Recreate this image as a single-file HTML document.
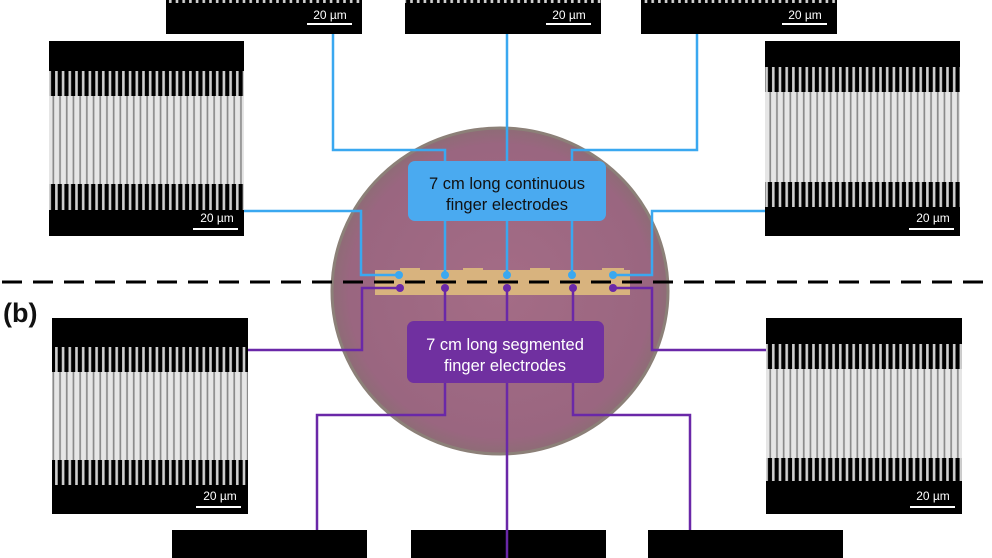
<!DOCTYPE html>
<html><head><meta charset="utf-8"><style>
html,body{margin:0;padding:0;background:#fff;width:992px;height:558px;overflow:hidden}
svg{display:block}
text{font-family:"Liberation Sans",sans-serif}
</style></head><body>
<svg width="992" height="558" viewBox="0 0 992 558" xmlns="http://www.w3.org/2000/svg">
<defs>
<pattern id="t" width="6.7" height="10" patternUnits="userSpaceOnUse"><rect x="1.5" width="2.6" height="10" fill="#cfcfcf"/></pattern>
<pattern id="m" width="6.7" height="10" patternUnits="userSpaceOnUse"><rect width="6.7" height="10" fill="#8a8a8a"/><rect x="0.6" width="5" height="10" fill="#e6e6e6"/></pattern>
<radialGradient id="dish" cx="0.5" cy="0.5" r="0.5"><stop offset="0" stop-color="#a46c86"/><stop offset="0.9" stop-color="#9a6680"/><stop offset="1" stop-color="#8e6c76"/></radialGradient>
</defs>

<g>
<rect x="166" y="0" width="196" height="34" fill="#000"/><rect x="166" y="0" width="196" height="3" fill="url(#t)"/>
<text x="330" y="19" fill="#fff" font-size="12" text-anchor="middle">20 µm</text><rect x="307" y="23" width="45" height="2" fill="#fff"/>
<rect x="405" y="0" width="196" height="34" fill="#000"/><rect x="405" y="0" width="196" height="3" fill="url(#t)"/>
<text x="569" y="19" fill="#fff" font-size="12" text-anchor="middle">20 µm</text><rect x="546" y="23" width="45" height="2" fill="#fff"/>
<rect x="641" y="0" width="196" height="34" fill="#000"/><rect x="641" y="0" width="196" height="3" fill="url(#t)"/>
<text x="805" y="19" fill="#fff" font-size="12" text-anchor="middle">20 µm</text><rect x="782" y="23" width="45" height="2" fill="#fff"/>
</g>

<rect x="49" y="41" width="195" height="195" fill="#000"/>
<rect x="49" y="71" width="195" height="139" fill="url(#t)"/>
<rect x="49" y="96" width="195" height="88" fill="url(#m)"/>
<text x="217" y="222" fill="#fff" font-size="12" text-anchor="middle">20 µm</text><rect x="193" y="228" width="45" height="2" fill="#fff"/>
<rect x="765" y="41" width="195" height="195" fill="#000"/>
<rect x="765" y="67" width="195" height="140" fill="url(#t)"/>
<rect x="765" y="92" width="195" height="90" fill="url(#m)"/>
<text x="933" y="222" fill="#fff" font-size="12" text-anchor="middle">20 µm</text><rect x="909" y="228" width="45" height="2" fill="#fff"/>
<rect x="52" y="318" width="196" height="196" fill="#000"/>
<rect x="52" y="347" width="196" height="138" fill="url(#t)"/>
<rect x="52" y="372" width="196" height="88" fill="url(#m)"/>
<text x="220" y="500" fill="#fff" font-size="12" text-anchor="middle">20 µm</text><rect x="196" y="506" width="45" height="2" fill="#fff"/>
<rect x="766" y="318" width="196" height="196" fill="#000"/>
<rect x="766" y="344" width="196" height="137" fill="url(#t)"/>
<rect x="766" y="369" width="196" height="89" fill="url(#m)"/>
<text x="933" y="500" fill="#fff" font-size="12" text-anchor="middle">20 µm</text><rect x="910" y="506" width="45" height="2" fill="#fff"/>
<rect x="172" y="530" width="195" height="28" fill="#000"/>
<rect x="411" y="530" width="195" height="28" fill="#000"/>
<rect x="648" y="530" width="195" height="28" fill="#000"/>

<ellipse cx="500" cy="291" rx="168" ry="163" fill="url(#dish)" stroke="#8c8078" stroke-width="3"/>
<rect x="375" y="270" width="255" height="25" fill="#d8b37e"/>
<rect x="400" y="268" width="20" height="3" fill="#d8b37e"/><rect x="463" y="268" width="20" height="3" fill="#d8b37e"/><rect x="530" y="268" width="20" height="3" fill="#d8b37e"/><rect x="602" y="268" width="22" height="3" fill="#d8b37e"/>

<g fill="none" stroke="#3aa8f0" stroke-width="2.5">
<path d="M399 275H361V211H244"/>
<path d="M333 34V150H445V275"/>
<path d="M507 34V275"/>
<path d="M697 34V150H572V275"/>
<path d="M613 275H652V211H765"/>
</g>
<g fill="#3aa8f0"><circle cx="399" cy="275" r="4"/><circle cx="445" cy="275" r="4"/><circle cx="507" cy="275" r="4"/><circle cx="572" cy="275" r="4"/><circle cx="613" cy="275" r="4"/></g>

<g fill="none" stroke="#6a28a8" stroke-width="2.5">
<path d="M400 288H362V350H248"/>
<path d="M445 288V415H317V530"/>
<path d="M507 288V558"/>
<path d="M573 288V415H690V530"/>
<path d="M613 288H652V350H766"/>
</g>
<g fill="#6a28a8"><circle cx="400" cy="288" r="4"/><circle cx="445" cy="288" r="4"/><circle cx="507" cy="288" r="4"/><circle cx="573" cy="288" r="4"/><circle cx="613" cy="288" r="4"/></g>

<line x1="2" y1="282" x2="992" y2="282" stroke="#000" stroke-width="3" stroke-dasharray="20 11"/>

<rect x="408" y="161" width="198" height="60" rx="7" fill="#4aaaf0"/>
<text x="507" y="189" font-size="16.5" text-anchor="middle" fill="#111">7 cm long continuous</text>
<text x="507" y="210" font-size="16.5" text-anchor="middle" fill="#111">finger electrodes</text>
<rect x="407" y="321" width="197" height="62" rx="7" fill="#7030a0"/>
<text x="505" y="350" font-size="16.5" text-anchor="middle" fill="#fff">7 cm long segmented</text>
<text x="505" y="371" font-size="16.5" text-anchor="middle" fill="#fff">finger electrodes</text>

<text x="3" y="322" font-size="27" font-weight="bold" fill="#111">(b)</text>
</svg>
</body></html>
